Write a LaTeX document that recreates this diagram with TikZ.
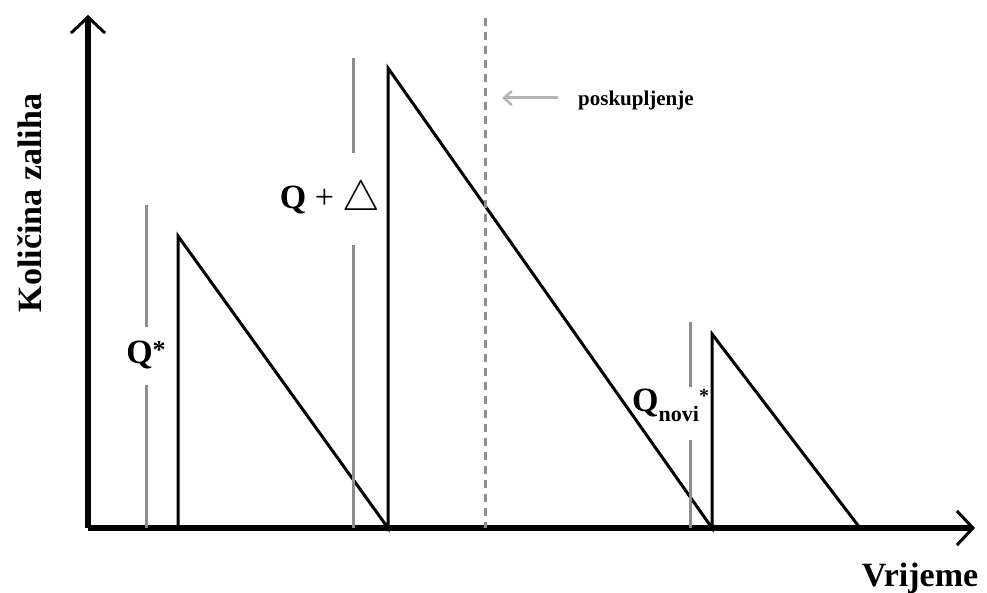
\documentclass[tikz,border=0pt]{standalone}
\usepackage{fontspec}
\setmainfont{Liberation Serif}
\usetikzlibrary{arrows.meta,positioning}
\definecolor{marker}{HTML}{8C8C8C}
\definecolor{hint}{HTML}{B4B4B4}

\begin{document}
\begin{tikzpicture}[x=1pt,y=-1pt,
    axis/.style={line width=5.5pt,-{Straight Barb[length=16pt,width=34pt,line width=3pt]}},
    stock/.style={line width=3pt,line join=miter},
    qline/.style={marker,line width=3pt},
    biglab/.style={font=\bfseries\fontsize{34}{34}\selectfont,inner sep=0pt}]
  \useasboundingbox (0,0) rectangle (987,593);
  % axes
  \coordinate (o) at (88,528);
  \coordinate (ytip) at (88,15);
  \coordinate (xtip) at (975,528);
  \draw[axis] (o) -- (ytip);
  \draw[axis] (o) -- (xtip);
  \node[biglab,rotate=90] (ylab) at (30,203) {Količina zaliha};
  \node[biglab] (xlab) at (920,578) {Vrijeme};
  % sawtooth of the stock
  \coordinate (a0) at (178,528);
  \coordinate (a1) at (178,236);
  \coordinate (b0) at (388,528);
  \coordinate (b1) at (388,68);
  \coordinate (c0) at (712,528);
  \coordinate (c1) at (712,334);
  \coordinate (d0) at (860,528);
  \draw[stock] (a0) -- (a1) -- (b0) -- (b1) -- (c0) -- (c1) -- (d0);
  % order quantities
  \node[biglab] (qstar) at (146,355) {Q\raisebox{0.15em}{\fontsize{26}{26}\selectfont *}};
  \draw[qline] (146,528) -- (146,385);
  \draw[qline] (146,327) -- (146,205);
  \node[biglab] (qdelta) at (330,200) {Q \textmd{+} \raisebox{-0.05em}{\scalebox{1.7}{$\triangle$}}};
  \draw[qline] (353,528) -- (353,245);
  \draw[qline] (353,153) -- (353,58);
  \node[biglab,anchor=west] (qnovi) at (632,405)
    {Q\raisebox{-0.3em}{\fontsize{22}{22}\selectfont novi}\raisebox{0.25em}{\fontsize{20}{20}\selectfont *}};
  \draw[qline] (690,528) -- (690,440);
  \draw[qline] (690,387) -- (690,322);
  % price rise
  \coordinate (ptop) at (485,18);
  \coordinate (pbot) at (485,528);
  \draw[marker,line width=3pt,dash pattern=on 8pt off 6pt] (ptop) -- (pbot);
  \node[font=\bfseries\fontsize{21}{21}\selectfont,anchor=west,inner sep=0pt] (rise) at (578,100) {poskupljenje};
  \coordinate (rtip) at (502,98);
  \draw[hint,line width=3pt,-{Straight Barb[length=8pt,width=14pt,line width=2.5pt]}] (558,98) -- (rtip);
\end{tikzpicture}
\end{document}
